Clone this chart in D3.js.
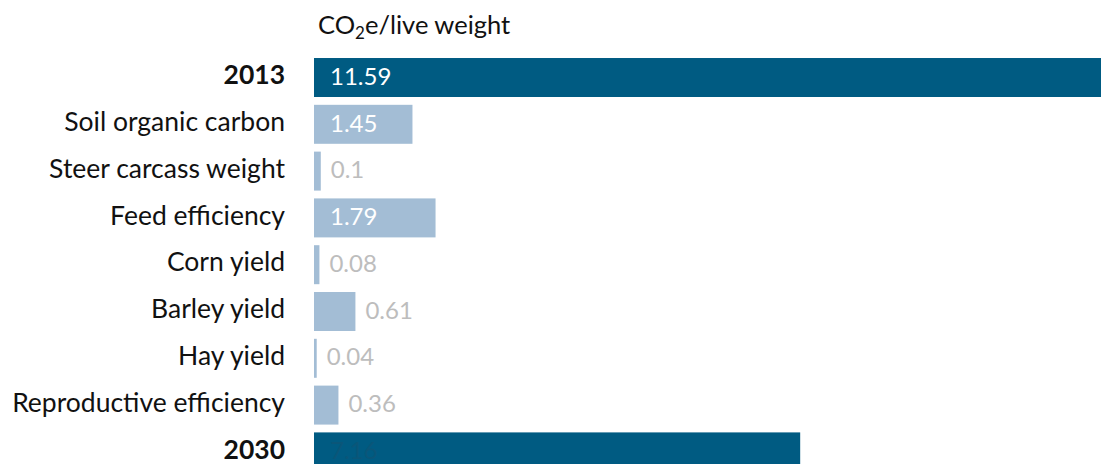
<!DOCTYPE html>
<html>
<head>
<meta charset="utf-8">
<script src="https://cdn.jsdelivr.net/npm/d3@7"></script>
<style>
  html, body { margin: 0; padding: 0; background: #fff; }
  svg { display: block; font-family: Lato, "Noto Sans", sans-serif; }
</style>
</head>
<body>
<svg id="chart"></svg>
<script>
// CO2e per live weight, 2013 -> 2030 breakdown

const WIDTH = 1102;
const HEIGHT = 464;

const categories = [
    '2013', 'Soil organic carbon', 'Steer carcass weight', 'Feed efficiency',
    'Corn yield', 'Barley yield', 'Hay yield', 'Reproductive efficiency', '2030'
];
const values = [11.59, 1.45, 0.1, 1.79, 0.08, 0.61, 0.04, 0.36, 7.16];
const totals = ['2013', '2030'];

const DARK = '#005b82';
const LIGHT = '#a3bdd5';

const svg = d3.select('#chart')
    .attr('width', WIDTH)
    .attr('height', HEIGHT);

const x = d3.scaleLinear()
    .domain([0, 11.59])
    .range([314, 1101]);

const y = d3.scaleBand()
    .domain(categories)
    .range([50.2, 479.2])
    .padding(0.167);

const rows = categories.map((c, i) => ({ name: c, value: values[i], total: totals.includes(c) }));

// title with subscript
const title = svg.append('text')
    .attr('x', 318)
    .attr('y', 34)
    .attr('font-size', 25.5)
    .attr('fill', '#111');
title.append('tspan').text('CO');
title.append('tspan').attr('font-size', 17).attr('dy', 5).text('2');
title.append('tspan').attr('dy', -5).text('e/live weight');

svg.append('g')
    .selectAll('rect')
    .data(rows)
    .join('rect')
    .attr('x', x(0))
    .attr('y', d => y(d.name))
    .attr('width', d => x(d.value) - x(0))
    .attr('height', y.bandwidth())
    .attr('fill', d => d.total ? DARK : LIGHT);

// category labels
svg.append('g')
    .selectAll('text')
    .data(rows)
    .join('text')
    .attr('x', 285)
    .attr('y', d => y(d.name) + y.bandwidth() / 2)
    .attr('dy', '0.25em')
    .attr('text-anchor', 'end')
    .attr('font-size', 26.5)
    .attr('font-weight', d => d.total ? 700 : 400)
    .attr('fill', '#111')
    .text(d => d.name);

// value labels: inside if the bar is wide enough
const inside = d => x(d.value) - x(0) > 80;
svg.append('g')
    .selectAll('text')
    .data(rows)
    .join('text')
    .attr('x', d => inside(d) ? x(0) + 16 : x(d.value) + 10)
    .attr('y', d => y(d.name) + y.bandwidth() / 2)
    .attr('dy', '0.3em')
    .attr('font-size', 24)
    .attr('fill', d => d.name === '2030' ? '#0a5679' : (inside(d) ? '#fff' : '#bdbdbd'))
    .text(d => d.value);
</script>
</body>
</html>
